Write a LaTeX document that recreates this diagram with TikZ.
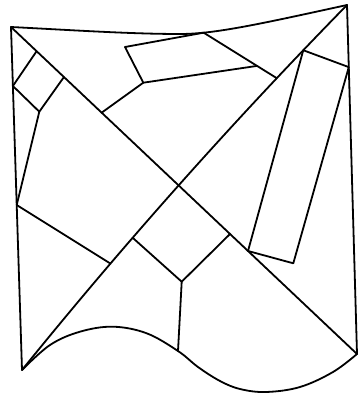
\documentclass[tikz,border=0pt]{standalone}
\begin{document}
\begin{tikzpicture}[x=1pt,y=-1pt,
  edge/.style={line width=1.8pt, line join=round, line cap=round, draw=black}]
\useasboundingbox (0,0) rectangle (360,404);
% corners
\coordinate (TL) at (11,27);
\coordinate (TR) at (347,5);
\coordinate (BR) at (357,354);
\coordinate (BL) at (22,370);
\coordinate (M) at (180,34);
\coordinate (VB) at (178,351);
% top edge
\draw[edge] (TL) .. controls (70,30) and (130,34) .. (M)
  .. controls (215,34) and (260,24) .. (TR) coordinate[pos=0.21] (UR);
% left and right edges
\draw[edge] (TL) -- (BL) coordinate[pos=0.172] (SqB) coordinate[pos=0.519] (LE);
\draw[edge] (TR) -- (BR) coordinate[pos=0.178] (RR);
% bottom wavy edge
\draw[edge] plot[smooth, tension=0.6] coordinates {(22,370) (50,345) (80,331.7) (113,326.7) (146.7,333.3) (178,351) (198,367) (220,381) (240,389) (266,392) (300,387) (333,372) (357,354)};
% diagonals
\draw[edge] (TL) -- (BR) coordinate[pos=0.074] (SqA) coordinate[pos=0.153] (SqD)
  coordinate[pos=0.262] (UQd) coordinate[pos=0.633] (CR) coordinate[pos=0.685] (RB);
\draw[edge] (BL) .. controls (123,245) and (231.3,123.3) .. (TR)
  coordinate[pos=0.286] (P1) coordinate[pos=0.356] (CL)
  coordinate[pos=0.795] (DR) coordinate[pos=0.873] (RT);
% small square top-left
\coordinate (SqC) at (39.3,111.7);
\draw[edge] (SqA) -- (SqB) -- (SqC) -- (SqD);
% left quadrilateral
\draw[edge] (SqC) -- (LE) -- (P1);
% upper quadrilateral
\coordinate (UL) at (125,47);
\coordinate (LL) at (143.3,82.7);
\path (UR) -- (DR) coordinate[pos=0.73] (LR);
\draw[edge] (UR) -- (DR);
\draw[edge] (UR) -- (UL) -- (LL) -- (LR);
\draw[edge] (LL) -- (UQd);
% tall rectangle on the right
\coordinate (RBR) at (293.3,263.3);
\draw[edge] (RB) -- (RT) -- (RR) -- (RBR) -- (RB);
% centre rectangle
\coordinate (CB) at (181.7,281.7);
\draw[edge] (CL) -- (CB) -- (CR);
\draw[edge] (CB) -- (VB);
\end{tikzpicture}
\end{document}
